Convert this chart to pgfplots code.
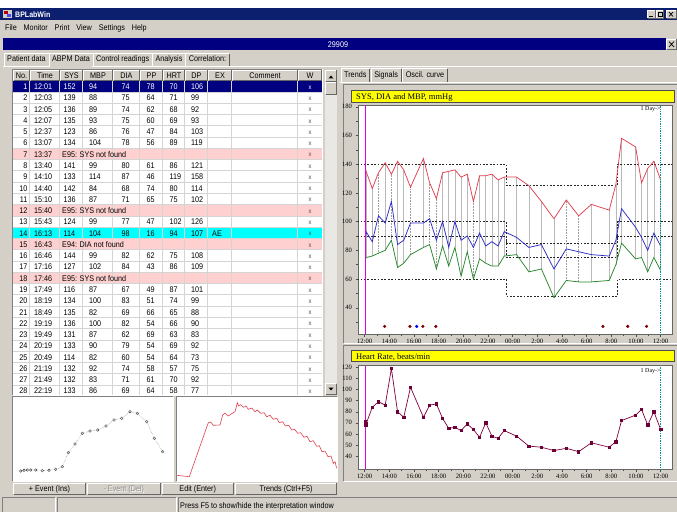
\documentclass[border=0pt]{standalone}
\usepackage{pgfplots}
\pgfplotsset{compat=1.18}
\usepackage{pgfplotstable}
\usepackage{fontspec}
\setmainfont{Liberation Serif}
\newfontfamily\uifont[FakeStretch=0.88]{Liberation Sans}
\definecolor{face}{RGB}{212,208,200}
\definecolor{shadow}{RGB}{128,128,128}
\definecolor{navy}{RGB}{0,0,128}
\definecolor{ttl}{RGB}{12,30,110}
\definecolor{pinkrow}{RGB}{255,208,208}
\definecolor{cyanrow}{RGB}{0,255,255}
\definecolor{gridc}{RGB}{212,212,212}
\definecolor{sysc}{RGB}{225,65,80}
\definecolor{mbpc}{RGB}{45,45,200}
\definecolor{diac}{RGB}{40,135,45}
\definecolor{hrc}{RGB}{128,0,64}
\definecolor{evc}{RGB}{128,0,0}
\definecolor{magl}{RGB}{225,0,225}
\definecolor{teall}{RGB}{0,150,150}
\definecolor{ylw}{RGB}{255,255,0}
\definecolor{track}{RGB}{234,232,228}
\newcommand\uif{\uifont\fontsize{8.2}{9}\selectfont}
\newcommand\xf{\uifont\fontsize{6.5}{7}\selectfont}
\newcommand\tickf{\fontsize{6.6}{7}\selectfont}
\newcommand\ttlf{\fontsize{8.5}{9}\selectfont}

\pgfplotstableread{
t sys mbp dia hr dot
0.050 139 88 75 71 0
0.083 136 89 74 68 0
0.117 135 93 75 69 0
0.617 123 86 76 84 0
1.117 134 104 78 89 1
1.667 141 99 80 86 0
2.167 133 114 87 119 1
2.667 142 84 68 80 0
3.167 136 87 71 75 0
3.717 124 99 77 102 1
4.767 144 99 82 75 0
5.267 127 102 84 86 1
5.817 116 87 67 87 1
6.317 134 100 83 74 0
6.817 135 82 69 65 0
7.317 136 100 82 66 0
7.817 131 87 62 63 0
8.317 133 90 79 69 0
8.817 114 82 60 64 1
9.317 132 92 74 57 0
9.817 132 83 71 70 0
10.317 133 86 69 58 0
10.817 129 83 69 56 0
11.317 131 93 76 63 0
12.317 131 89 77 58 0
13.317 125 82 65 49 0
14.330 114 84 67 48 0
15.350 102 67 47 45 0
16.350 115 81 59 47 1
17.350 104 79 58 44 1
18.380 112 77 58 52 0
19.830 108 76 59 48 0
20.370 126 87 70 53 0
20.830 158 109 85 72 0
21.970 152 96 74 77 0
22.450 127 89 75 82 0
22.950 137 80 65 68 0
23.450 142 92 75 80 0
24.000 129 83 66 64 0
}\bp

\pgfplotstableread{
t y
1.62 27
3.67 27
4.72 27
5.77 27
19.32 27
21.33 27
22.86 27
}\ev

\newcommand\raised[4]{%
  \fill[face] (#1,#2) rectangle (#3,#4);
  \draw[white] (#1+0.5,#4-0.5) -- (#1+0.5,#2+0.5) -- (#3-1,#2+0.5);
  \draw[black!60] (#1+0.5,#4-0.5) -- (#3-0.5,#4-0.5) -- (#3-0.5,#2+0.5);}
\newcommand\sunken[4]{%
  \draw[shadow] (#1-0.5,#4) -- (#1-0.5,#2-0.5) -- (#3,#2-0.5);
  \draw[white] (#1-0.5,#4+0.5) -- (#3+0.5,#4+0.5) -- (#3+0.5,#2-0.5);}

\begin{document}
\begin{tikzpicture}
\useasboundingbox (0,0) rectangle (677pt,512pt);
\fill[face] (0,0) rectangle (677pt,512pt);
\begin{scope}[x=1pt,y=1pt,yshift=512pt,yscale=-1]
  % top strip and title bar
  \fill[white] (0,0) rectangle (677,8);
  \fill[ttl] (0,8.5) rectangle (677,20);
  \fill[face] (3,10) rectangle (12,18.5);
  \fill[red!70!black] (4,11) rectangle (8,14.5);
  \fill[blue!70] (7,14) rectangle (11,17.5);
  \node[anchor=base west, text=white, font=\uifont\fontsize{8}{9}\selectfont\bfseries, inner sep=0] at (15,17.5) {BPLabWin};
  \raised{647}{10}{655.5}{18.5}
  \draw[black, line width=0.8pt] (649,16.5) -- (653,16.5);
  \raised{655.5}{10}{664}{18.5}
  \draw[black, line width=0.5pt] (658,12.5) rectangle (662,16.5);
  \raised{666}{10}{677}{18.5}
  \draw[black, line width=0.7pt] (669,12) -- (673,16.5) (673,12) -- (669,16.5);
  % menu
  \node[anchor=base west, font=\uif, inner sep=0] (m1) at (5,31) {File};
  \node[anchor=base west, font=\uif, inner sep=0] (m2) at ([xshift=6.5pt]m1.base east) {Monitor};
  \node[anchor=base west, font=\uif, inner sep=0] (m3) at ([xshift=6.5pt]m2.base east) {Print};
  \node[anchor=base west, font=\uif, inner sep=0] (m4) at ([xshift=6.5pt]m3.base east) {View};
  \node[anchor=base west, font=\uif, inner sep=0] (m5) at ([xshift=6.5pt]m4.base east) {Settings};
  \node[anchor=base west, font=\uif, inner sep=0] (m6) at ([xshift=6.5pt]m5.base east) {Help};
  % blue bar
  \fill[navy] (3,38.5) rectangle (666,50);
  \node[anchor=base, text=white, font=\uif, inner sep=0] at (338,47.3) {29909};
  \raised{666}{38.5}{677}{50}
  \draw[black, line width=0.7pt] (669,41.5) -- (674,47) (674,41.5) -- (669,47);
  % tabs
  \draw[white] (3,66.5) -- (677,66.5);
  \begin{scope}[every node/.style={font=\uif, inner xsep=3pt, inner ysep=0pt, text height=6pt, text depth=1.6pt, minimum height=12pt, fill=face, anchor=south west}]
    \node (t1) at (4,66) {Patient data};
    \node (t2) at (t1.south east) {ABPM Data};
    \node (t3) at (t2.south east) {Control readings};
    \node (t4) at (t3.south east) {Analysis};
    \node (t5) at (t4.south east) {Correlation:};
  \end{scope}
  \foreach \tb in {t1,t2,t3,t4,t5}{
    \draw[white] (\tb.south west) -- (\tb.north west) -- (\tb.north east);
    \draw[black!65] (\tb.north east) -- (\tb.south east);}
  \fill[face] ([xshift=0.6pt,yshift=-0.2pt]t2.south west) rectangle ([xshift=-0.6pt,yshift=1.2pt]t2.south east);
  % table
  \fill[white] (13,70) rectangle (322,395);
  \begin{scope}
  \clip (13,70) rectangle (322,395);
  \foreach \a/\b/\lab in {13/30/No.,30/60/Time,60/83/SYS,83/113/MBP,113/140/DIA,140/163/PP,163/185/HRT,185/208/DP,208/232/EX,232/298/Comment,298/322/W}{
    \raised{\a}{70}{\b}{81}
    \node[anchor=base, font=\uif, inner sep=0] at ({(\a+\b)/2},78.6) {\lab};}
  % special row backgrounds
  \fill[navy] (13,81) rectangle (322,92.27);
  \foreach \n in {7,12,15,18}{\fill[pinkrow] (13,{81+(\n-1)*11.27}) rectangle (322,{81+\n*11.27});}
  \fill[cyanrow] (13,{81+13*11.27}) rectangle (322,{81+14*11.27});
  % grid
  \foreach \n in {1,...,28}{\draw[gridc] (13,{81+\n*11.27-0.5}) -- (322,{81+\n*11.27-0.5});}
  \foreach \c in {30,60,83,113,140,163,185,208,232,298}{\draw[gridc] (\c-0.5,81) -- (\c-0.5,395);}
  % row 1
  \begin{scope}[every node/.style={font=\uif, inner sep=0, text=white}]
    \node[anchor=base east] at (27.5,89.6) {1};
    \node[anchor=base west] at (34,89.6) {12:01};
    \node[anchor=base west] at (63.5,89.6) {152};
    \node[anchor=base west] at (89,89.6) {94};
    \node[anchor=base west] at (121.5,89.6) {74};
    \node[anchor=base west] at (146.5,89.6) {78};
    \node[anchor=base west] at (169.5,89.6) {70};
    \node[anchor=base west] at (191,89.6) {106};
    \node[anchor=base, font=\xf] at (310,89.3) {x};
  \end{scope}
  \foreach \na/\tm/\sy/\mb/\di/\ppv/\hrv/\dpv in {2/12:03/139/88/75/64/71/99,3/12:05/136/89/74/62/68/92,4/12:07/135/93/75/60/69/93,5/12:37/123/86/76/47/84/103,6/13:07/134/104/78/56/89/119,8/13:40/141/99/80/61/86/121,9/14:10/133/114/87/46/119/158,10/14:40/142/84/68/74/80/114,11/15:10/136/87/71/65/75/102,13/15:43/124/99/77/47/102/126,14/16:13/114/104/98/16/94/107,16/16:46/144/99/82/62/75/108,17/17:16/127/102/84/43/86/109,19/17:49/116/87/67/49/87/101,20/18:19/134/100/83/51/74/99,21/18:49/135/82/69/66/65/88,22/19:19/136/100/82/54/66/90,23/19:49/131/87/62/69/63/83,24/20:19/133/90/79/54/69/92,25/20:49/114/82/60/54/64/73,26/21:19/132/92/74/58/57/75,27/21:49/132/83/71/61/70/92,28/22:19/133/86/69/64/58/77}{
    \pgfmathsetmacro\yb{81+(\na-1)*11.27+8.6}
    \begin{scope}[every node/.style={font=\uif, inner sep=0}]
    \node[anchor=base east] at (27.5,\yb) {\na};
    \node[anchor=base west] at (34,\yb) {\tm};
    \node[anchor=base west] at (63.5,\yb) {\sy};
    \node[anchor=base west] at (89,\yb) {\mb};
    \node[anchor=base west] at (121.5,\yb) {\di};
    \node[anchor=base west] at (146.5,\yb) {\ppv};
    \node[anchor=base west] at (169.5,\yb) {\hrv};
    \node[anchor=base west] at (191,\yb) {\dpv};
    \node[anchor=base, font=\xf, text=black!70] at (310,\yb-0.3) {x};
    \end{scope}}
  \foreach \na/\tm/\msg in {7/13:37/E95: SYS not found,12/15:40/E95: SYS not found,15/16:43/E94: DIA not found,18/17:46/E95: SYS not found}{
    \pgfmathsetmacro\yb{81+(\na-1)*11.27+8.6}
    \begin{scope}[every node/.style={font=\uif, inner sep=0}]
    \node[anchor=base east] at (27.5,\yb) {\na};
    \node[anchor=base west] at (34,\yb) {\tm};
    \node[anchor=base west] at (62,\yb) {\msg};
    \node[anchor=base, font=\xf, text=black!70] at (310,\yb-0.3) {x};
    \end{scope}}
  \node[anchor=base west, font=\uif, inner sep=0] at (212,{81+13*11.27+8.6}) {AE};
  \end{scope}
  \sunken{13}{70}{322}{395}
  % scrollbar
  \fill[track] (325,70) rectangle (337,395);
  \raised{325}{70}{337}{82}
  \fill[black] (328.5,78.5) -- (333.5,78.5) -- (331,75.5) -- cycle;
  \raised{325}{82}{337}{95}
  \raised{325}{383}{337}{395}
  \fill[black] (328.5,387.5) -- (333.5,387.5) -- (331,390.5) -- cycle;
  % small panels
  \fill[white] (13,397) rectangle (173,481);
  \sunken{13}{397}{173}{481}
  \fill[white] (177,397) rectangle (337,481);
  \sunken{177}{397}{337}{481}
  % buttons
  \raised{13}{482.5}{86}{494.5}
  \node[font=\uif, inner sep=0, anchor=base] at (49.5,491.6) {+ Event (Ins)};
  \raised{87}{482.5}{160.5}{494.5}
  \node[font=\uif, inner sep=0, anchor=base, text=white] at (124.5,492.3) {- Event (Del)};
  \node[font=\uif, inner sep=0, anchor=base, text=black!45] at (123.8,491.6) {- Event (Del)};
  \raised{161.5}{482.5}{234}{494.5}
  \node[font=\uif, inner sep=0, anchor=base] at (197.7,491.6) {Edit (Enter)};
  \raised{235}{482.5}{337}{494.5}
  \node[font=\uif, inner sep=0, anchor=base] at (286,491.6) {Trends (Ctrl+F5)};
  % status bar
  \sunken{3}{498}{55}{512}
  \sunken{57.5}{498}{176}{512}
  \sunken{178.5}{498}{677}{512}
  \node[font=\uif, inner sep=0, anchor=base west] at (180,508.5) {Press F5 to show/hide the interpretation window};
  % right panel tabs
  \draw[white] (340,82.5) -- (677,82.5);
  \begin{scope}[every node/.style={font=\uif, inner xsep=3pt, inner ysep=0pt, text height=6pt, text depth=1.6pt, minimum height=13pt, fill=face, anchor=south west}]
    \node (r1) at (341,82) {Trends};
    \node (r2) at ([xshift=1.5pt]r1.south east) {Signals};
    \node (r3) at ([xshift=1.5pt]r2.south east) {Oscil. curve};
  \end{scope}
  \foreach \tb in {r1,r2,r3}{
    \draw[white] (\tb.south west) -- (\tb.north west) -- (\tb.north east);
    \draw[black!65] (\tb.north east) -- (\tb.south east);}
  % chart panels
  \sunken{344}{85}{677}{343}
  \sunken{344}{346}{677}{481}
  \fill[ylw, draw=black!70] (351,90) rectangle (674,102);
  \node[anchor=base west, font=\ttlf, inner sep=0] at (356,99.6) {SYS, DIA and MBP, mmHg};
  \fill[ylw, draw=black!70] (351,350) rectangle (674,361.5);
  \node[anchor=base west, font=\ttlf, inner sep=0] at (356,359.2) {Heart Rate, beats/min};
\end{scope}

% ---------- BP trend chart
\begin{axis}[
  at={(358pt,177.7pt)}, anchor=south west, scale only axis,
  width=314pt, height=229.3pt,
  xmin=-0.54, xmax=24.92, ymin=21.5, ymax=181.2,
  axis background/.style={fill=white},
  axis line style={black!60, line width=0.5pt},
  tick pos=left, tick align=outside,
  major tick length=2.5pt, minor tick length=1.8pt,
  xtick={0,2,...,24}, minor xtick={1,3,...,23},
  xticklabels={12:00,14:00,16:00,18:00,20:00,22:00,00:00,2:00,4:00,6:00,8:00,10:00,12:00},
  ytick={40,60,...,180}, minor ytick={30,50,...,170},
  every tick/.style={black!70, line width=0.4pt},
  tick label style={font=\tickf},
  xticklabel style={yshift=1pt},
  /pgf/number format/assume math mode=true,
]
\addplot[draw=none, mark=none, error bars/.cd, y dir=plus, y explicit, error mark=none,
  error bar style={draw=gray!55, line width=0.7pt}]
  table[x=t, y=dia, y error expr=(1-\thisrow{dot})*(\thisrow{sys}-\thisrow{dia})] {\bp};
\addplot[draw=none, mark=none, error bars/.cd, y dir=plus, y explicit, error mark=none,
  error bar style={draw=gray!75, line width=0.55pt, densely dotted}]
  table[x=t, y=dia, y error expr=\thisrow{dot}*(\thisrow{sys}-\thisrow{dia})] {\bp};
\pgfplotsset{thr/.style={black!85, line width=0.6pt, dash pattern=on 1.8pt off 1.6pt}}
\addplot[thr] coordinates {(-0.6,140) (11.5,140) (11.5,125) (20.5,125) (20.5,140) (25,140)};
\addplot[thr] coordinates {(-0.6,100) (11.5,100) (11.5,85) (20.5,85) (20.5,100) (25,100)};
\addplot[thr] coordinates {(-0.6,90) (11.5,90) (11.5,75) (20.5,75) (20.5,90) (25,90)};
\addplot[thr] coordinates {(-0.6,60) (11.5,60) (11.5,48) (20.5,48) (20.5,60) (25,60)};
\addplot[diac, line width=0.75pt] table[x=t, y=dia] {\bp};
\addplot[mbpc, line width=0.75pt] table[x=t, y=mbp] {\bp};
\addplot[sysc, line width=0.75pt] table[x=t, y=sys] {\bp};
\addplot[only marks, mark=*, mark size=1.4pt, evc] table[x=t, y=y] {\ev};
\addplot[only marks, mark=*, mark size=1.4pt, blue] coordinates {(4.22,27)};
\addplot[magl, line width=0.8pt] coordinates {(0.05,21.5) (0.05,181.2)};
\addplot[teall, line width=0.7pt, densely dotted] coordinates {(24,21.5) (24,181.2)};
\node[anchor=north east, font=\fontsize{6}{6}\selectfont, inner sep=0.5pt] at (axis cs:24.05,180.3) {1 Day->};
\end{axis}

% ---------- heart rate chart
\begin{axis}[
  at={(358pt,42.7pt)}, anchor=south west, scale only axis,
  width=314pt, height=103.6pt,
  xmin=-0.54, xmax=24.92, ymin=28.1, ymax=121.5,
  axis background/.style={fill=white},
  axis line style={black!60, line width=0.5pt},
  tick pos=left, tick align=outside,
  major tick length=2.5pt, minor tick length=1.8pt,
  xtick={0,2,...,24}, minor xtick={1,3,...,23},
  xticklabels={12:00,14:00,16:00,18:00,20:00,22:00,00:00,2:00,4:00,6:00,8:00,10:00,12:00},
  ytick={40,50,...,120},
  every tick/.style={black!70, line width=0.4pt},
  tick label style={font=\tickf},
  xticklabel style={yshift=1pt},
  /pgf/number format/assume math mode=true,
]
\addplot[hrc, line width=0.7pt, mark=square*, mark size=1.2pt, mark options={fill=hrc!85!black, draw=hrc!85!black}] table[x=t, y=hr] {\bp};
\addplot[magl, line width=0.8pt] coordinates {(0.05,28.1) (0.05,121.5)};
\addplot[teall, line width=0.7pt, densely dotted] coordinates {(24,28.1) (24,121.5)};
\node[anchor=north east, font=\fontsize{6}{6}\selectfont, inner sep=0.5pt] at (axis cs:24.05,119.8) {1 Day->};
\end{axis}

% ---------- oscillometric envelope (small left panel)
\begin{axis}[at={(13pt,31pt)}, anchor=south west, scale only axis, width=160pt, height=84pt,
  hide axis, xmin=13, xmax=173, ymin=0, ymax=84]
\addplot[black!55, densely dotted, mark=o, mark size=1.3pt, mark options={solid, black!75, line width=0.4pt}] coordinates {
(20.7,10) (24,10.7) (27.3,11) (30.7,11) (35.7,11) (42.3,10.3) (49,10.7) (55.7,11.7) (62.3,14.3)
(68.3,28.3) (75,37) (82.3,47.7) (90,50) (97.7,51) (106,55) (114,61) (121.7,62.7) (130,69.3)
(137.3,67.7) (146.7,59.3) (154.3,42.7) (162.7,29.3)};
\end{axis}

% ---------- cuff pressure signal (small right panel)
\begin{axis}[at={(177pt,31pt)}, anchor=south west, scale only axis, width=160pt, height=84pt,
  hide axis, xmin=177, xmax=337, ymin=0, ymax=84]
\addplot[sysc, line width=0.6pt] coordinates {
(176.7,5.7) (189.3,4.3) (208.3,58.3) (210.7,59) (213.3,55.7) (220,56) (222.7,66) (225,67.7)
(228.3,65) (232.3,67.7) (235,69.3) (237.3,78.3) (238.7,75) (240.7,76.3) (243.3,73.7) (246,75)
(248.3,71.7) (251.7,73) (255,69.3) (257.3,71) (260.7,67.7) (264,68.3) (266.7,64.3) (270,65.7)
(273.3,61.7) (276.7,62.7) (279.3,58.3) (282.7,59.3) (285.3,55) (288.7,55.7) (291.7,51) (294.7,51.7)
(297.7,47.7) (300.7,48.3) (304,43.7) (307,44.7) (310,39.3) (313.3,40.3) (316.7,34.7) (319.3,35.3)
(322,29.3) (325,30) (328,24.3) (331,25) (333.3,17.7) (335,19.3) (336.7,12.7)};
\end{axis}
\end{tikzpicture}
\end{document}
